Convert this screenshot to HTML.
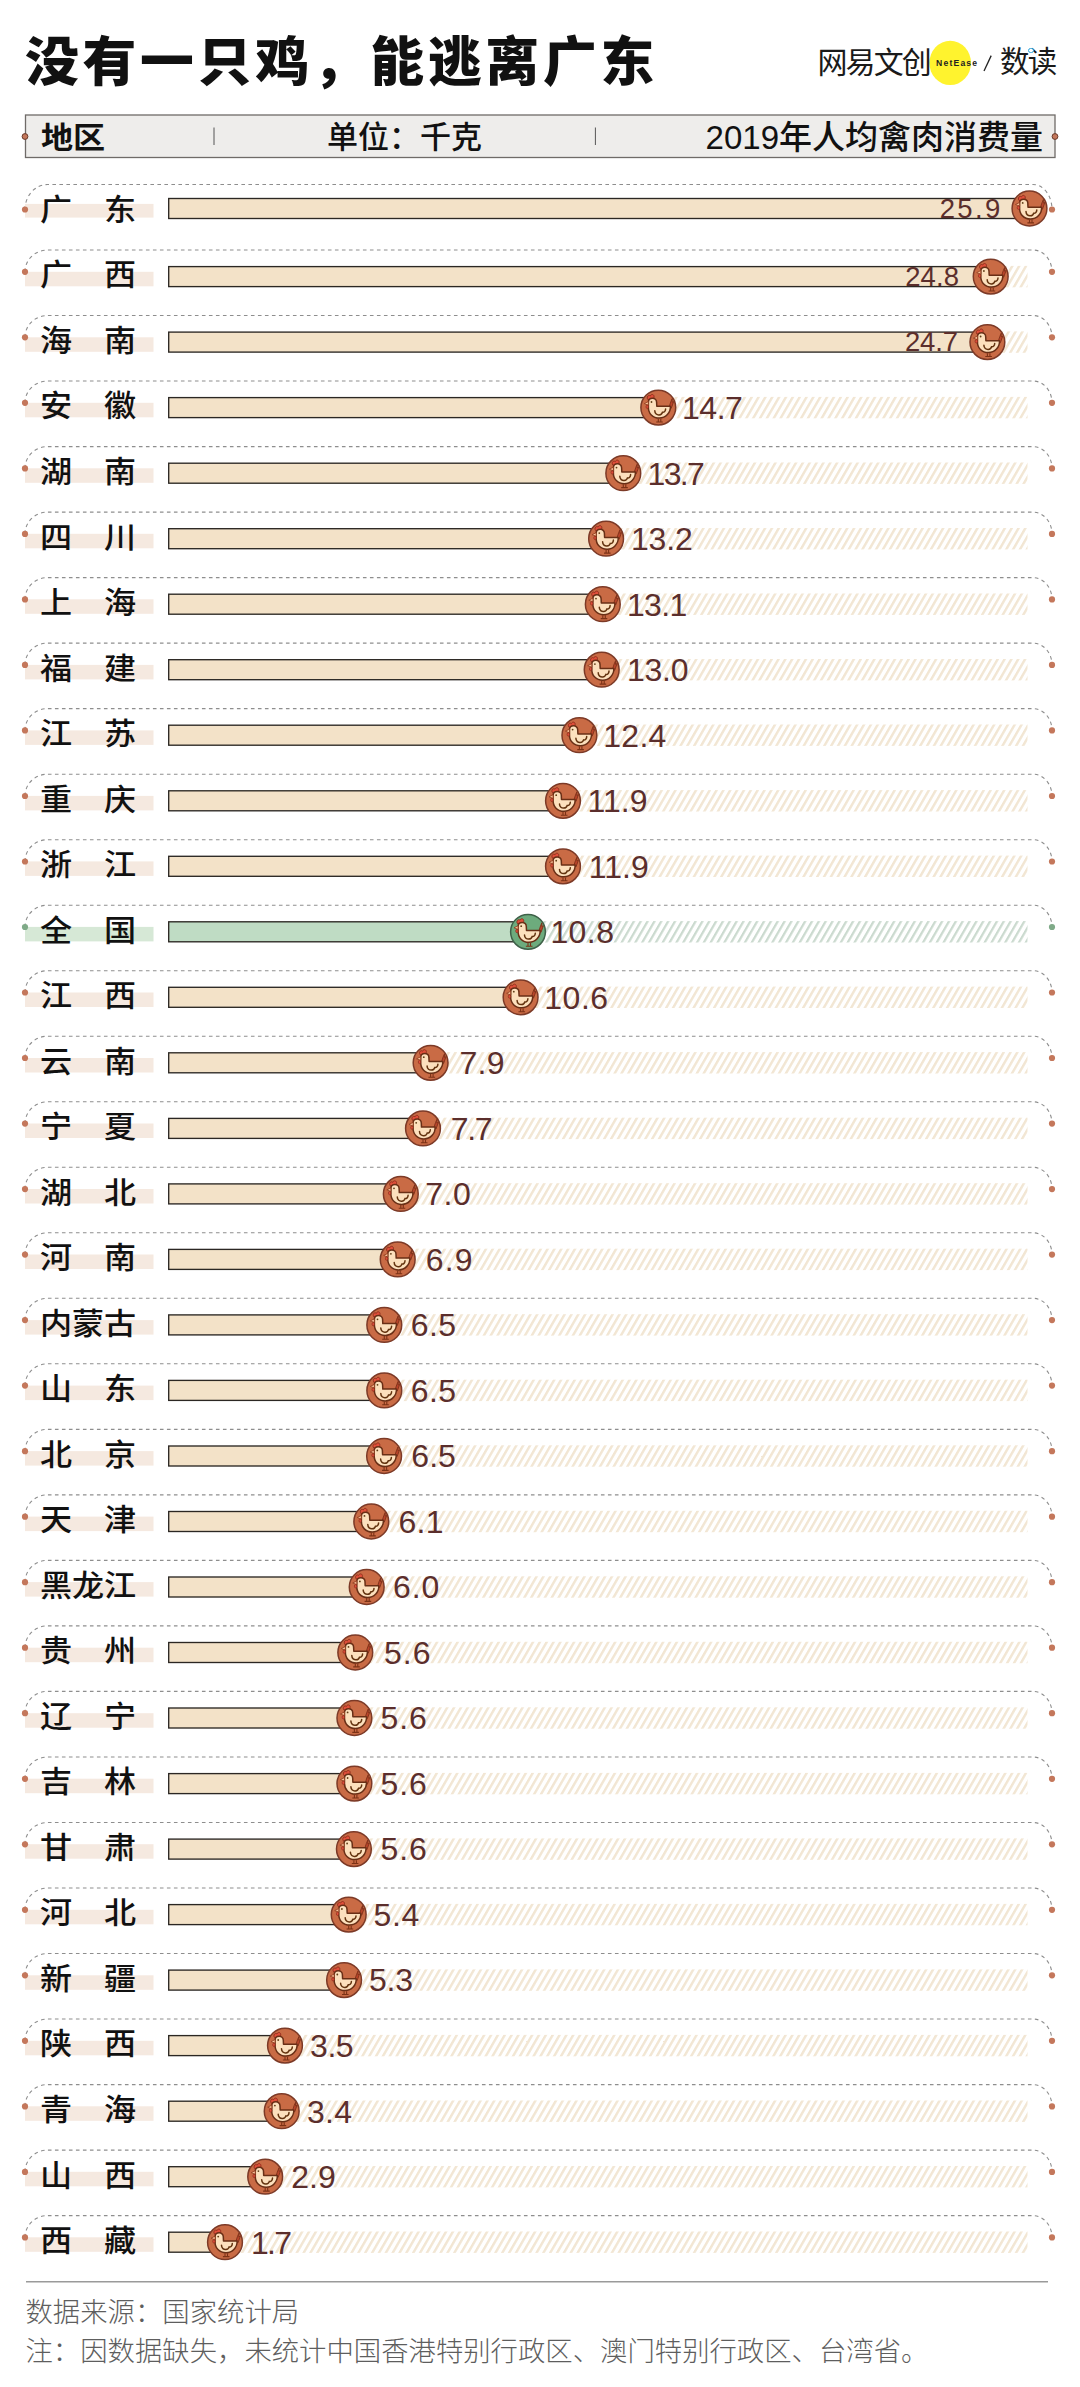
<!DOCTYPE html>
<html lang="zh-CN"><head><meta charset="utf-8"><title>没有一只鸡，能逃离广东</title>
<style>
html,body{margin:0;padding:0;background:#fff}
body{width:1080px;height:2387px;position:relative;overflow:hidden;font-family:"Liberation Sans","Noto Sans CJK SC",sans-serif;color:#111}
#gfx{position:absolute;left:0;top:0}
.fr{fill:none;stroke:#8e8e8e;stroke-width:1.1;stroke-dasharray:3.6 3.4}
.bdo{fill:#f5e9e0} .bdg{fill:#d6e8d6}
.dto{fill:#c4775b} .dtg{fill:#7faa88}
.bro{fill:#f3e2c8;stroke:#2b2723;stroke-width:1.35}
.brg{fill:#bfdcc4;stroke:#2b2723;stroke-width:1.35}
.t{position:absolute;white-space:nowrap;line-height:1}
h1{position:absolute;margin:0;left:25px;top:36.2px;font:900 53.8px/1 "Liberation Sans","Noto Sans CJK SC",sans-serif;white-space:nowrap;color:#111;letter-spacing:3.75px}
.lb{position:absolute;left:40.5px;width:94.5px;height:40px;line-height:40px;font-size:30px;font-weight:500;white-space:nowrap;color:#111;display:flex;justify-content:space-between}
.lb span{display:block;width:30px;text-align:center;transform:scaleX(1.07)}
.v{position:absolute;height:40px;line-height:40px;font-size:32px;color:#5b2e2c;white-space:nowrap;letter-spacing:0}
.hd{position:absolute;top:117.8px;height:40px;line-height:40px;white-space:nowrap;color:#111}
.ft{position:absolute;left:25.5px;font-size:27.36px;font-weight:300;color:#5e5e5e;line-height:36px;height:36px;white-space:nowrap}
</style></head><body>
<svg id="gfx" width="1080" height="2387" viewBox="0 0 1080 2387">
<defs>
<pattern id="ho" width="6.85" height="12" patternUnits="userSpaceOnUse" patternTransform="skewX(-30)"><rect width="2.8" height="12" fill="#f2e6d3"/></pattern>
<pattern id="hg" width="6.85" height="12" patternUnits="userSpaceOnUse" patternTransform="skewX(-30)"><rect width="2.6" height="12" fill="#cbdacf"/></pattern>
<g id="heno">
<circle r="17.4" fill="#c96b45" stroke="#7c3a27" stroke-width="1.5"/>
<path d="M11,-1.2 L12.5,-5.8 L13.9,-9 L13.8,-5.4 L15.4,-6.1 L13,0.6 Z" fill="#b9442a" stroke="#7e3019" stroke-width=".9" stroke-linejoin="round"/>
<path d="M-10.4,-8 C-12.4,-10.6 -9.8,-13.2 -8,-11.6 C-7.2,-14 -3.8,-13.4 -4.3,-10.5 L-4.7,-8.4 Z" fill="#df4f3a" stroke="#8f2c1c" stroke-width=".9" stroke-linejoin="round"/>
<path d="M-9.9,-5.4 C-9.9,-10.7 -1.7,-10.7 -1.7,-5.4 L-1.5,-1.3 L12.1,-1.3 C12.5,5 7.4,10.5 1,10.5 C-5.4,10.5 -10.3,6 -9.9,-1 Z" fill="#fce0bd" stroke="#692f16" stroke-width="1.5" stroke-linejoin="round"/>
<path d="M-9.9,-6 L-14,-4 L-9.9,-2.4 Z" fill="#fbc29a" stroke="#8e3a1c" stroke-width=".8" stroke-linejoin="round"/>
<ellipse cx="-11.1" cy="-0.8" rx="1.2" ry="1.7" fill="#df4f3a" stroke="#8f2c1c" stroke-width=".7"/>
<circle cx="-6.8" cy="-5.6" r=".9" fill="#5e3d16"/>
<path d="M-3.5,3.1 C-3.5,6.1 -1.3,7.5 0.9,7.3 C2.6,7.2 3.8,6.1 4.2,4.7 C5.9,4.9 7.2,3.7 7.3,1.4" fill="none" stroke="#63330f" stroke-width="1.5" stroke-linecap="round"/>
<path d="M0,11.1 V14.2 M2.5,11.1 V14.2 M-2.1,14.4 H4.5" stroke="#7c3216" stroke-width="1.1" fill="none"/>
</g>
<g id="heng">
<circle r="17.4" fill="#6dab7d" stroke="#3f6149" stroke-width="1.5"/>
<path d="M11,-1.2 L12.5,-5.8 L13.9,-9 L13.8,-5.4 L15.4,-6.1 L13,0.6 Z" fill="#b9442a" stroke="#7e3019" stroke-width=".9" stroke-linejoin="round"/>
<path d="M-10.4,-8 C-12.4,-10.6 -9.8,-13.2 -8,-11.6 C-7.2,-14 -3.8,-13.4 -4.3,-10.5 L-4.7,-8.4 Z" fill="#df4f3a" stroke="#8f2c1c" stroke-width=".9" stroke-linejoin="round"/>
<path d="M-9.9,-5.4 C-9.9,-10.7 -1.7,-10.7 -1.7,-5.4 L-1.5,-1.3 L12.1,-1.3 C12.5,5 7.4,10.5 1,10.5 C-5.4,10.5 -10.3,6 -9.9,-1 Z" fill="#fce0bd" stroke="#692f16" stroke-width="1.5" stroke-linejoin="round"/>
<path d="M-9.9,-6 L-14,-4 L-9.9,-2.4 Z" fill="#fbc29a" stroke="#8e3a1c" stroke-width=".8" stroke-linejoin="round"/>
<ellipse cx="-11.1" cy="-0.8" rx="1.2" ry="1.7" fill="#df4f3a" stroke="#8f2c1c" stroke-width=".7"/>
<circle cx="-6.8" cy="-5.6" r=".9" fill="#5e3d16"/>
<path d="M-3.5,3.1 C-3.5,6.1 -1.3,7.5 0.9,7.3 C2.6,7.2 3.8,6.1 4.2,4.7 C5.9,4.9 7.2,3.7 7.3,1.4" fill="none" stroke="#63330f" stroke-width="1.5" stroke-linecap="round"/>
<path d="M0,11.1 V14.2 M2.5,11.1 V14.2 M-2.1,14.4 H4.5" stroke="#7c3216" stroke-width="1.1" fill="none"/>
</g>
</defs>
<!-- header box -->
<rect x="25.5" y="115" width="1029.5" height="42.5" fill="#eeedeb" stroke="#6f6b68" stroke-width="1.3"/>
<line x1="214" y1="127.5" x2="214" y2="145" stroke="#555" stroke-width="1"/>
<line x1="595.4" y1="127.5" x2="595.4" y2="145" stroke="#555" stroke-width="1"/>
<circle cx="25" cy="136.5" r="2.9" fill="#c4775b" stroke="#6b3a2a" stroke-width="1"/>
<circle cx="1055" cy="136.5" r="2.9" fill="#c4775b" stroke="#6b3a2a" stroke-width="1"/>
<!-- logo -->
<ellipse cx="950.2" cy="62.9" rx="20.8" ry="22.2" fill="#fff32e"/>
<line x1="984" y1="71" x2="991.2" y2="55.6" stroke="#222" stroke-width="1.3"/>
<!-- rows -->
<path class="fr" d="M25,209.5 A22.5,25.0 0 0 1 47.5,184.5 H1033 A19,25.0 0 0 1 1052,209.5"/>
<rect class="bdo" x="25" y="203.9" width="128.5" height="13.7"/>
<circle class="dto" cx="25" cy="209.5" r="3.1"/><circle class="dto" cx="1052" cy="209.5" r="3.1"/>
<rect class="bro" x="168.7" y="198.5" width="860.8" height="20"/>
<use href="#heno" x="1029.5" y="208.5"/>
<path class="fr" d="M25,271.8 A22.5,21.8 0 0 1 47.5,250.0 H1033 A19,21.8 0 0 1 1052,271.8"/>
<rect class="bdo" x="25" y="271.8" width="128.5" height="14.5"/>
<circle class="dto" cx="25" cy="271.8" r="3.1"/><circle class="dto" cx="1052" cy="271.8" r="3.1"/>
<rect x="990.7" y="265.9" width="36.8" height="21.4" fill="url(#ho)"/>
<rect class="bro" x="168.7" y="266.6" width="822.0" height="20"/>
<use href="#heno" x="990.7" y="276.6"/>
<path class="fr" d="M25,337.3 A22.5,21.8 0 0 1 47.5,315.5 H1033 A19,21.8 0 0 1 1052,337.3"/>
<rect class="bdo" x="25" y="337.3" width="128.5" height="14.5"/>
<circle class="dto" cx="25" cy="337.3" r="3.1"/><circle class="dto" cx="1052" cy="337.3" r="3.1"/>
<rect x="987.4" y="331.4" width="40.1" height="21.4" fill="url(#ho)"/>
<rect class="bro" x="168.7" y="332.1" width="818.7" height="20"/>
<use href="#heno" x="987.4" y="342.1"/>
<path class="fr" d="M25,402.8 A22.5,21.8 0 0 1 47.5,381.0 H1033 A19,21.8 0 0 1 1052,402.8"/>
<rect class="bdo" x="25" y="402.8" width="128.5" height="14.5"/>
<circle class="dto" cx="25" cy="402.8" r="3.1"/><circle class="dto" cx="1052" cy="402.8" r="3.1"/>
<rect x="658.3" y="396.9" width="369.2" height="21.4" fill="url(#ho)"/>
<rect class="bro" x="168.7" y="397.6" width="489.6" height="20"/>
<use href="#heno" x="658.3" y="407.6"/>
<path class="fr" d="M25,468.4 A22.5,21.8 0 0 1 47.5,446.6 H1033 A19,21.8 0 0 1 1052,468.4"/>
<rect class="bdo" x="25" y="468.3" width="128.5" height="14.5"/>
<circle class="dto" cx="25" cy="468.4" r="3.1"/><circle class="dto" cx="1052" cy="468.4" r="3.1"/>
<rect x="623.3" y="462.5" width="404.2" height="21.4" fill="url(#ho)"/>
<rect class="bro" x="168.7" y="463.2" width="454.6" height="20"/>
<use href="#heno" x="623.3" y="473.2"/>
<path class="fr" d="M25,533.9 A22.5,21.8 0 0 1 47.5,512.1 H1033 A19,21.8 0 0 1 1052,533.9"/>
<rect class="bdo" x="25" y="533.8" width="128.5" height="14.5"/>
<circle class="dto" cx="25" cy="533.9" r="3.1"/><circle class="dto" cx="1052" cy="533.9" r="3.1"/>
<rect x="606.1" y="528.0" width="421.4" height="21.4" fill="url(#ho)"/>
<rect class="bro" x="168.7" y="528.7" width="437.4" height="20"/>
<use href="#heno" x="606.1" y="538.7"/>
<path class="fr" d="M25,599.4 A22.5,21.8 0 0 1 47.5,577.6 H1033 A19,21.8 0 0 1 1052,599.4"/>
<rect class="bdo" x="25" y="599.3" width="128.5" height="14.5"/>
<circle class="dto" cx="25" cy="599.4" r="3.1"/><circle class="dto" cx="1052" cy="599.4" r="3.1"/>
<rect x="602.8" y="593.5" width="424.7" height="21.4" fill="url(#ho)"/>
<rect class="bro" x="168.7" y="594.2" width="434.1" height="20"/>
<use href="#heno" x="602.8" y="604.2"/>
<path class="fr" d="M25,664.9 A22.5,21.8 0 0 1 47.5,643.1 H1033 A19,21.8 0 0 1 1052,664.9"/>
<rect class="bdo" x="25" y="664.9" width="128.5" height="14.5"/>
<circle class="dto" cx="25" cy="664.9" r="3.1"/><circle class="dto" cx="1052" cy="664.9" r="3.1"/>
<rect x="601.7" y="659.0" width="425.8" height="21.4" fill="url(#ho)"/>
<rect class="bro" x="168.7" y="659.7" width="433.0" height="20"/>
<use href="#heno" x="601.7" y="669.7"/>
<path class="fr" d="M25,730.4 A22.5,21.8 0 0 1 47.5,708.6 H1033 A19,21.8 0 0 1 1052,730.4"/>
<rect class="bdo" x="25" y="730.4" width="128.5" height="14.5"/>
<circle class="dto" cx="25" cy="730.4" r="3.1"/><circle class="dto" cx="1052" cy="730.4" r="3.1"/>
<rect x="579.4" y="724.5" width="448.1" height="21.4" fill="url(#ho)"/>
<rect class="bro" x="168.7" y="725.2" width="410.7" height="20"/>
<use href="#heno" x="579.4" y="735.2"/>
<path class="fr" d="M25,796.0 A22.5,21.8 0 0 1 47.5,774.2 H1033 A19,21.8 0 0 1 1052,796.0"/>
<rect class="bdo" x="25" y="795.9" width="128.5" height="14.5"/>
<circle class="dto" cx="25" cy="796.0" r="3.1"/><circle class="dto" cx="1052" cy="796.0" r="3.1"/>
<rect x="563.0" y="790.1" width="464.5" height="21.4" fill="url(#ho)"/>
<rect class="bro" x="168.7" y="790.8" width="394.3" height="20"/>
<use href="#heno" x="563.0" y="800.8"/>
<path class="fr" d="M25,861.5 A22.5,21.8 0 0 1 47.5,839.7 H1033 A19,21.8 0 0 1 1052,861.5"/>
<rect class="bdo" x="25" y="861.4" width="128.5" height="14.5"/>
<circle class="dto" cx="25" cy="861.5" r="3.1"/><circle class="dto" cx="1052" cy="861.5" r="3.1"/>
<rect x="563.0" y="855.6" width="464.5" height="21.4" fill="url(#ho)"/>
<rect class="bro" x="168.7" y="856.3" width="394.3" height="20"/>
<use href="#heno" x="563.0" y="866.3"/>
<path class="fr" d="M25,927.0 A22.5,21.8 0 0 1 47.5,905.2 H1033 A19,21.8 0 0 1 1052,927.0"/>
<rect class="bdg" x="25" y="926.9" width="128.5" height="14.5"/>
<circle class="dtg" cx="25" cy="927.0" r="3.1"/><circle class="dtg" cx="1052" cy="927.0" r="3.1"/>
<rect x="528.0" y="921.1" width="499.5" height="21.4" fill="url(#hg)"/>
<rect class="brg" x="168.7" y="921.8" width="359.3" height="20"/>
<use href="#heng" x="528.0" y="931.8"/>
<path class="fr" d="M25,992.5 A22.5,21.8 0 0 1 47.5,970.7 H1033 A19,21.8 0 0 1 1052,992.5"/>
<rect class="bdo" x="25" y="992.5" width="128.5" height="14.5"/>
<circle class="dto" cx="25" cy="992.5" r="3.1"/><circle class="dto" cx="1052" cy="992.5" r="3.1"/>
<rect x="520.6" y="986.6" width="506.9" height="21.4" fill="url(#ho)"/>
<rect class="bro" x="168.7" y="987.3" width="351.9" height="20"/>
<use href="#heno" x="520.6" y="997.3"/>
<path class="fr" d="M25,1058.0 A22.5,21.8 0 0 1 47.5,1036.2 H1033 A19,21.8 0 0 1 1052,1058.0"/>
<rect class="bdo" x="25" y="1058.0" width="128.5" height="14.5"/>
<circle class="dto" cx="25" cy="1058.0" r="3.1"/><circle class="dto" cx="1052" cy="1058.0" r="3.1"/>
<rect x="430.6" y="1052.1" width="596.9" height="21.4" fill="url(#ho)"/>
<rect class="bro" x="168.7" y="1052.8" width="261.9" height="20"/>
<use href="#heno" x="430.6" y="1062.8"/>
<path class="fr" d="M25,1123.6 A22.5,21.8 0 0 1 47.5,1101.8 H1033 A19,21.8 0 0 1 1052,1123.6"/>
<rect class="bdo" x="25" y="1123.5" width="128.5" height="14.5"/>
<circle class="dto" cx="25" cy="1123.6" r="3.1"/><circle class="dto" cx="1052" cy="1123.6" r="3.1"/>
<rect x="423.0" y="1117.7" width="604.5" height="21.4" fill="url(#ho)"/>
<rect class="bro" x="168.7" y="1118.4" width="254.3" height="20"/>
<use href="#heno" x="423.0" y="1128.4"/>
<path class="fr" d="M25,1189.1 A22.5,21.8 0 0 1 47.5,1167.3 H1033 A19,21.8 0 0 1 1052,1189.1"/>
<rect class="bdo" x="25" y="1189.0" width="128.5" height="14.5"/>
<circle class="dto" cx="25" cy="1189.1" r="3.1"/><circle class="dto" cx="1052" cy="1189.1" r="3.1"/>
<rect x="400.8" y="1183.2" width="626.7" height="21.4" fill="url(#ho)"/>
<rect class="bro" x="168.7" y="1183.9" width="232.1" height="20"/>
<use href="#heno" x="400.8" y="1193.9"/>
<path class="fr" d="M25,1254.6 A22.5,21.8 0 0 1 47.5,1232.8 H1033 A19,21.8 0 0 1 1052,1254.6"/>
<rect class="bdo" x="25" y="1254.5" width="128.5" height="14.5"/>
<circle class="dto" cx="25" cy="1254.6" r="3.1"/><circle class="dto" cx="1052" cy="1254.6" r="3.1"/>
<rect x="397.7" y="1248.7" width="629.8" height="21.4" fill="url(#ho)"/>
<rect class="bro" x="168.7" y="1249.4" width="229.0" height="20"/>
<use href="#heno" x="397.7" y="1259.4"/>
<path class="fr" d="M25,1320.1 A22.5,21.8 0 0 1 47.5,1298.3 H1033 A19,21.8 0 0 1 1052,1320.1"/>
<rect class="bdo" x="25" y="1320.1" width="128.5" height="14.5"/>
<circle class="dto" cx="25" cy="1320.1" r="3.1"/><circle class="dto" cx="1052" cy="1320.1" r="3.1"/>
<rect x="384.3" y="1314.2" width="643.2" height="21.4" fill="url(#ho)"/>
<rect class="bro" x="168.7" y="1314.9" width="215.6" height="20"/>
<use href="#heno" x="384.3" y="1324.9"/>
<path class="fr" d="M25,1385.6 A22.5,21.8 0 0 1 47.5,1363.8 H1033 A19,21.8 0 0 1 1052,1385.6"/>
<rect class="bdo" x="25" y="1385.6" width="128.5" height="14.5"/>
<circle class="dto" cx="25" cy="1385.6" r="3.1"/><circle class="dto" cx="1052" cy="1385.6" r="3.1"/>
<rect x="384.3" y="1379.7" width="643.2" height="21.4" fill="url(#ho)"/>
<rect class="bro" x="168.7" y="1380.4" width="215.6" height="20"/>
<use href="#heno" x="384.3" y="1390.4"/>
<path class="fr" d="M25,1451.2 A22.5,21.8 0 0 1 47.5,1429.4 H1033 A19,21.8 0 0 1 1052,1451.2"/>
<rect class="bdo" x="25" y="1451.1" width="128.5" height="14.5"/>
<circle class="dto" cx="25" cy="1451.2" r="3.1"/><circle class="dto" cx="1052" cy="1451.2" r="3.1"/>
<rect x="384.1" y="1445.3" width="643.4" height="21.4" fill="url(#ho)"/>
<rect class="bro" x="168.7" y="1446.0" width="215.4" height="20"/>
<use href="#heno" x="384.1" y="1456.0"/>
<path class="fr" d="M25,1516.7 A22.5,21.8 0 0 1 47.5,1494.9 H1033 A19,21.8 0 0 1 1052,1516.7"/>
<rect class="bdo" x="25" y="1516.6" width="128.5" height="14.5"/>
<circle class="dto" cx="25" cy="1516.7" r="3.1"/><circle class="dto" cx="1052" cy="1516.7" r="3.1"/>
<rect x="371.3" y="1510.8" width="656.2" height="21.4" fill="url(#ho)"/>
<rect class="bro" x="168.7" y="1511.5" width="202.6" height="20"/>
<use href="#heno" x="371.3" y="1521.5"/>
<path class="fr" d="M25,1582.2 A22.5,21.8 0 0 1 47.5,1560.4 H1033 A19,21.8 0 0 1 1052,1582.2"/>
<rect class="bdo" x="25" y="1582.1" width="128.5" height="14.5"/>
<circle class="dto" cx="25" cy="1582.2" r="3.1"/><circle class="dto" cx="1052" cy="1582.2" r="3.1"/>
<rect x="366.7" y="1576.3" width="660.8" height="21.4" fill="url(#ho)"/>
<rect class="bro" x="168.7" y="1577.0" width="198.0" height="20"/>
<use href="#heno" x="366.7" y="1587.0"/>
<path class="fr" d="M25,1647.7 A22.5,21.8 0 0 1 47.5,1625.9 H1033 A19,21.8 0 0 1 1052,1647.7"/>
<rect class="bdo" x="25" y="1647.7" width="128.5" height="14.5"/>
<circle class="dto" cx="25" cy="1647.7" r="3.1"/><circle class="dto" cx="1052" cy="1647.7" r="3.1"/>
<rect x="355.3" y="1641.8" width="672.2" height="21.4" fill="url(#ho)"/>
<rect class="bro" x="168.7" y="1642.5" width="186.6" height="20"/>
<use href="#heno" x="355.3" y="1652.5"/>
<path class="fr" d="M25,1713.2 A22.5,21.8 0 0 1 47.5,1691.4 H1033 A19,21.8 0 0 1 1052,1713.2"/>
<rect class="bdo" x="25" y="1713.2" width="128.5" height="14.5"/>
<circle class="dto" cx="25" cy="1713.2" r="3.1"/><circle class="dto" cx="1052" cy="1713.2" r="3.1"/>
<rect x="354.4" y="1707.3" width="673.1" height="21.4" fill="url(#ho)"/>
<rect class="bro" x="168.7" y="1708.0" width="185.7" height="20"/>
<use href="#heno" x="354.4" y="1718.0"/>
<path class="fr" d="M25,1778.8 A22.5,21.8 0 0 1 47.5,1757.0 H1033 A19,21.8 0 0 1 1052,1778.8"/>
<rect class="bdo" x="25" y="1778.7" width="128.5" height="14.5"/>
<circle class="dto" cx="25" cy="1778.8" r="3.1"/><circle class="dto" cx="1052" cy="1778.8" r="3.1"/>
<rect x="354.4" y="1772.9" width="673.1" height="21.4" fill="url(#ho)"/>
<rect class="bro" x="168.7" y="1773.6" width="185.7" height="20"/>
<use href="#heno" x="354.4" y="1783.6"/>
<path class="fr" d="M25,1844.3 A22.5,21.8 0 0 1 47.5,1822.5 H1033 A19,21.8 0 0 1 1052,1844.3"/>
<rect class="bdo" x="25" y="1844.2" width="128.5" height="14.5"/>
<circle class="dto" cx="25" cy="1844.3" r="3.1"/><circle class="dto" cx="1052" cy="1844.3" r="3.1"/>
<rect x="353.9" y="1838.4" width="673.6" height="21.4" fill="url(#ho)"/>
<rect class="bro" x="168.7" y="1839.1" width="185.2" height="20"/>
<use href="#heno" x="353.9" y="1849.1"/>
<path class="fr" d="M25,1909.8 A22.5,21.8 0 0 1 47.5,1888.0 H1033 A19,21.8 0 0 1 1052,1909.8"/>
<rect class="bdo" x="25" y="1909.8" width="128.5" height="14.5"/>
<circle class="dto" cx="25" cy="1909.8" r="3.1"/><circle class="dto" cx="1052" cy="1909.8" r="3.1"/>
<rect x="348.7" y="1903.9" width="678.8" height="21.4" fill="url(#ho)"/>
<rect class="bro" x="168.7" y="1904.6" width="180.0" height="20"/>
<use href="#heno" x="348.7" y="1914.6"/>
<path class="fr" d="M25,1975.3 A22.5,21.8 0 0 1 47.5,1953.5 H1033 A19,21.8 0 0 1 1052,1975.3"/>
<rect class="bdo" x="25" y="1975.3" width="128.5" height="14.5"/>
<circle class="dto" cx="25" cy="1975.3" r="3.1"/><circle class="dto" cx="1052" cy="1975.3" r="3.1"/>
<rect x="344.1" y="1969.4" width="683.4" height="21.4" fill="url(#ho)"/>
<rect class="bro" x="168.7" y="1970.1" width="175.4" height="20"/>
<use href="#heno" x="344.1" y="1980.1"/>
<path class="fr" d="M25,2040.8 A22.5,21.8 0 0 1 47.5,2019.0 H1033 A19,21.8 0 0 1 1052,2040.8"/>
<rect class="bdo" x="25" y="2040.8" width="128.5" height="14.5"/>
<circle class="dto" cx="25" cy="2040.8" r="3.1"/><circle class="dto" cx="1052" cy="2040.8" r="3.1"/>
<rect x="285.0" y="2034.9" width="742.5" height="21.4" fill="url(#ho)"/>
<rect class="bro" x="168.7" y="2035.6" width="116.3" height="20"/>
<use href="#heno" x="285.0" y="2045.6"/>
<path class="fr" d="M25,2106.4 A22.5,21.8 0 0 1 47.5,2084.6 H1033 A19,21.8 0 0 1 1052,2106.4"/>
<rect class="bdo" x="25" y="2106.3" width="128.5" height="14.5"/>
<circle class="dto" cx="25" cy="2106.4" r="3.1"/><circle class="dto" cx="1052" cy="2106.4" r="3.1"/>
<rect x="281.7" y="2100.5" width="745.8" height="21.4" fill="url(#ho)"/>
<rect class="bro" x="168.7" y="2101.2" width="113.0" height="20"/>
<use href="#heno" x="281.7" y="2111.2"/>
<path class="fr" d="M25,2171.9 A22.5,21.8 0 0 1 47.5,2150.1 H1033 A19,21.8 0 0 1 1052,2171.9"/>
<rect class="bdo" x="25" y="2171.8" width="128.5" height="14.5"/>
<circle class="dto" cx="25" cy="2171.9" r="3.1"/><circle class="dto" cx="1052" cy="2171.9" r="3.1"/>
<rect x="265.2" y="2166.0" width="762.3" height="21.4" fill="url(#ho)"/>
<rect class="bro" x="168.7" y="2166.7" width="96.5" height="20"/>
<use href="#heno" x="265.2" y="2176.7"/>
<path class="fr" d="M25,2237.4 A22.5,21.8 0 0 1 47.5,2215.6 H1033 A19,21.8 0 0 1 1052,2237.4"/>
<rect class="bdo" x="25" y="2237.3" width="128.5" height="14.5"/>
<circle class="dto" cx="25" cy="2237.4" r="3.1"/><circle class="dto" cx="1052" cy="2237.4" r="3.1"/>
<rect x="225.0" y="2231.5" width="802.5" height="21.4" fill="url(#ho)"/>
<rect class="bro" x="168.7" y="2232.2" width="56.3" height="20"/>
<use href="#heno" x="225.0" y="2242.2"/>
<line x1="26" y1="2281.8" x2="1048" y2="2281.8" stroke="#9a9a9a" stroke-width="1.4"/>
</svg>
<h1>没有一只鸡，能逃离广东</h1>
<div class="t" style="left:817.5px;top:47.5px;font-size:30px;font-weight:400;letter-spacing:-1.9px;color:#1a1a1a;line-height:30px">网易文创</div>
<div class="t" style="left:936px;top:58px;font-size:8.6px;font-weight:700;letter-spacing:1.2px;color:#222;line-height:10px">NetEase</div>
<div class="t" style="left:1000px;top:47px;font-size:29.5px;font-weight:400;letter-spacing:-1.8px;color:#1a1a1a;line-height:30px">数读</div>
<div style="position:absolute;left:1028.4px;top:47.9px;width:3.2px;height:3.2px;border:1.5px solid #2aa3dc;border-radius:50%;background:#fff"></div>
<div class="hd" style="left:40.5px;font-size:30px;font-weight:700;transform:scaleX(1.07);transform-origin:0 50%">地区</div>
<div class="hd" style="left:327px;font-size:31px;font-weight:500">单位：千克</div>
<div class="hd" style="right:37px;font-size:33px;font-weight:500">2019年人均禽肉消费量</div>
<div class="lb" style="top:189.5px"><span>广</span><span>东</span></div>
<div class="v" style="right:77.3px;top:188.8px;font-size:27.5px;letter-spacing:2.37px">25.9</div>
<div class="lb" style="top:255.4px"><span>广</span><span>西</span></div>
<div class="v" style="right:120.8px;top:256.9px;font-size:27.5px;letter-spacing:0.12px">24.8</div>
<div class="lb" style="top:320.9px"><span>海</span><span>南</span></div>
<div class="v" style="right:122.1px;top:322.4px;font-size:27.5px;letter-spacing:-0.15px">24.7</div>
<div class="lb" style="top:386.4px"><span>安</span><span>徽</span></div>
<div class="v" style="left:682.0px;top:387.9px;letter-spacing:-0.47px">14.7</div>
<div class="lb" style="top:452.0px"><span>湖</span><span>南</span></div>
<div class="v" style="left:647.6px;top:453.5px;letter-spacing:-1.70px">13.7</div>
<div class="lb" style="top:517.5px"><span>四</span><span>川</span></div>
<div class="v" style="left:630.9px;top:519.0px;letter-spacing:-0.10px">13.2</div>
<div class="lb" style="top:583.0px"><span>上</span><span>海</span></div>
<div class="v" style="left:626.9px;top:584.5px;letter-spacing:-0.63px">13.1</div>
<div class="lb" style="top:648.5px"><span>福</span><span>建</span></div>
<div class="v" style="left:626.9px;top:650.0px;letter-spacing:-0.23px">13.0</div>
<div class="lb" style="top:714.0px"><span>江</span><span>苏</span></div>
<div class="v" style="left:603.2px;top:715.5px;letter-spacing:0.30px">12.4</div>
<div class="lb" style="top:779.6px"><span>重</span><span>庆</span></div>
<div class="v" style="left:587.6px;top:781.1px;letter-spacing:0.03px">11.9</div>
<div class="lb" style="top:845.1px"><span>浙</span><span>江</span></div>
<div class="v" style="left:588.7px;top:846.6px;letter-spacing:0.03px">11.9</div>
<div class="lb" style="top:910.6px"><span>全</span><span>国</span></div>
<div class="v" style="left:550.4px;top:912.1px;letter-spacing:0.43px">10.8</div>
<div class="lb" style="top:976.1px"><span>江</span><span>西</span></div>
<div class="v" style="left:544.3px;top:977.6px;letter-spacing:0.53px">10.6</div>
<div class="lb" style="top:1041.6px"><span>云</span><span>南</span></div>
<div class="v" style="left:459.6px;top:1043.1px;letter-spacing:0.20px">7.9</div>
<div class="lb" style="top:1107.2px"><span>宁</span><span>夏</span></div>
<div class="v" style="left:450.7px;top:1108.7px;letter-spacing:-1.35px">7.7</div>
<div class="lb" style="top:1172.7px"><span>湖</span><span>北</span></div>
<div class="v" style="left:425.2px;top:1174.2px;letter-spacing:0.60px">7.0</div>
<div class="lb" style="top:1238.2px"><span>河</span><span>南</span></div>
<div class="v" style="left:425.7px;top:1239.7px;letter-spacing:1.20px">6.9</div>
<div class="lb" style="top:1303.7px"><span>内</span><span>蒙</span><span>古</span></div>
<div class="v" style="left:410.8px;top:1305.2px;letter-spacing:0.40px">6.5</div>
<div class="lb" style="top:1369.2px"><span>山</span><span>东</span></div>
<div class="v" style="left:410.8px;top:1370.7px;letter-spacing:0.40px">6.5</div>
<div class="lb" style="top:1434.8px"><span>北</span><span>京</span></div>
<div class="v" style="left:411.3px;top:1436.3px;letter-spacing:0.05px">6.5</div>
<div class="lb" style="top:1500.3px"><span>天</span><span>津</span></div>
<div class="v" style="left:398.6px;top:1501.8px;letter-spacing:0.20px">6.1</div>
<div class="lb" style="top:1565.8px"><span>黑</span><span>龙</span><span>江</span></div>
<div class="v" style="left:393.0px;top:1567.3px;letter-spacing:0.85px">6.0</div>
<div class="lb" style="top:1631.3px"><span>贵</span><span>州</span></div>
<div class="v" style="left:384.0px;top:1632.8px;letter-spacing:1.05px">5.6</div>
<div class="lb" style="top:1696.8px"><span>辽</span><span>宁</span></div>
<div class="v" style="left:380.6px;top:1698.3px;letter-spacing:0.85px">5.6</div>
<div class="lb" style="top:1762.4px"><span>吉</span><span>林</span></div>
<div class="v" style="left:380.6px;top:1763.9px;letter-spacing:0.85px">5.6</div>
<div class="lb" style="top:1827.9px"><span>甘</span><span>肃</span></div>
<div class="v" style="left:380.6px;top:1829.4px;letter-spacing:0.85px">5.6</div>
<div class="lb" style="top:1893.4px"><span>河</span><span>北</span></div>
<div class="v" style="left:373.5px;top:1894.9px;letter-spacing:0.60px">5.4</div>
<div class="lb" style="top:1958.9px"><span>新</span><span>疆</span></div>
<div class="v" style="left:369.1px;top:1960.4px;letter-spacing:-0.30px">5.3</div>
<div class="lb" style="top:2024.4px"><span>陕</span><span>西</span></div>
<div class="v" style="left:310.1px;top:2025.9px;letter-spacing:-0.50px">3.5</div>
<div class="lb" style="top:2090.0px"><span>青</span><span>海</span></div>
<div class="v" style="left:306.9px;top:2091.5px;letter-spacing:0.30px">3.4</div>
<div class="lb" style="top:2155.5px"><span>山</span><span>西</span></div>
<div class="v" style="left:291.2px;top:2157.0px;letter-spacing:0.05px">2.9</div>
<div class="lb" style="top:2221.0px"><span>西</span><span>藏</span></div>
<div class="v" style="left:250.9px;top:2222.5px;letter-spacing:-1.70px">1.7</div>
<div class="ft" style="top:2294.5px">数据来源：国家统计局</div>
<div class="ft" style="top:2333.5px">注：因数据缺失，未统计中国香港特别行政区、澳门特别行政区、台湾省。</div>
</body></html>
